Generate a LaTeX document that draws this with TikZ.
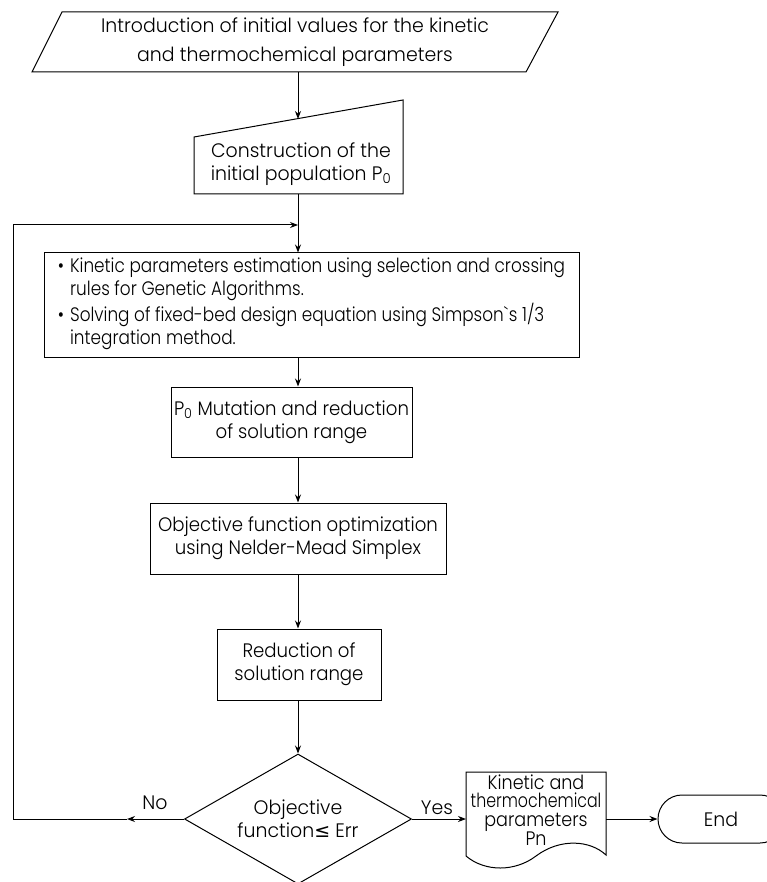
\documentclass[tikz,border=0pt]{standalone}
\usepackage{fontspec}
\setmainfont{Poppins}[UprightFont=* Light, FakeStretch=0.93]
\newfontfamily\fontWide{Poppins}[UprightFont=* Light, FakeStretch=0.97]
\newfontfamily\fontMain{Poppins}[UprightFont=* Light, FakeStretch=0.865]
\newfontfamily\fontDoc{Poppins}[UprightFont=* Light, FakeStretch=0.9]
\newfontfamily\fontDocN{Poppins}[UprightFont=* Light, FakeStretch=0.81]
\newfontfamily\fontSym{DejaVu Sans}
\usetikzlibrary{arrows.meta,shapes.geometric,shapes.misc}
\begin{document}
\begin{tikzpicture}[x=1pt,y=-1pt,
  line width=1pt,
  every node/.style={font=\fontsize{19.5}{23}\selectfont},
  wide/.style={font=\fontWide\fontsize{19.5}{23}\selectfont},
  arr/.style={-{Stealth[length=8pt,width=6pt]}},
  box/.style={draw, rectangle, inner sep=0pt, align=center},
]
\useasboundingbox (0,0) rectangle (767,882);

% input parallelogram
\draw (62,12) -- (558,12) -- (526,72) -- (32,72) -- cycle;
\node[align=center, font=\fontWide\fontsize{19.5}{29}\selectfont] (intro) at (295,42)
  {Introduction of initial values for the kinetic\\and thermochemical parameters};
\coordinate (introS) at (298,72);

% manual input
\draw (194,137) -- (403,100) -- (403,194) -- (194,194) -- cycle;
\node[wide, align=center] (pop) at (301,164) {Construction of the\\initial population P\textsubscript{0}};
\coordinate (popN) at (298,119);
\coordinate (popS) at (298,194);
\draw[arr] (introS) -- (popN);

\coordinate (join) at (298,225);

% main box
\node[box, minimum width=535pt, minimum height=104pt] (main) at (311.5,305) {};
\node[font=\fontMain\fontsize{19.5}{23}\selectfont] (maintext) at (311.5,304) {\begin{tabular}{@{}l@{\hspace{6pt}}l@{}}
\textbullet & Kinetic parameters estimation using selection and crossing\\
 & rules for Genetic Algorithms.\\
\textbullet & Solving of fixed-bed design equation using Simpson\textasciigrave s 1/3\\
 & integration method.
\end{tabular}};
\draw[arr] (popS) -- (popS |- main.north);

% mutation
\node[box, minimum width=241pt, minimum height=70pt] (mut) at (291.5,422)
  {P\textsubscript{0} Mutation and reduction\\of solution range};
\draw[arr] (popS |- main.south) -- (popS |- mut.north);

% objective
\node[box, minimum width=296pt, minimum height=71pt] (obj) at (298,538.5)
  {Objective function optimization\\using Nelder-Mead Simplex};
\draw[arr] (popS |- mut.south) -- (obj.north);

% reduction
\node[box, minimum width=164pt, minimum height=71pt] (red) at (299,664.5)
  {Reduction of\\solution range};
\draw[arr] (obj.south) -- (obj.south |- red.north);

% decision
\node[draw, diamond, minimum width=227pt, minimum height=130pt, inner sep=0pt,
  aspect=1.8, align=center, wide] (dec) at (298,819)
  {Objective\\function{\fontSym\fontsize{19}{23}\selectfont ≤} Err};
\draw[arr] (obj.south |- red.south) -- (dec.north);

% No branch / loop
\node[wide] (no) at (155,803) {No};
\coordinate (noTip) at (127,819);
\coordinate (loopBL) at (13,819);
\draw[arr] (dec.west) -- (noTip);
\draw[arr] (noTip) -- (loopBL) |- (join);

% Yes branch
\node[wide] (yes) at (437,808) {Yes};
\draw (466,772) -- (606,772) -- (606,855)
  .. controls (590,840) and (560,838) .. (536,856)
  .. controls (515,872) and (485,872) .. (466,856) -- cycle;
\node[align=center, font=\fontDoc\fontsize{19.5}{18.5}\selectfont] (doc) at (536,810)
  {Kinetic and\\{\fontDocN thermochemical}\\parameters\\Pn};
\coordinate (docW) at (466,819);
\coordinate (docE) at (606,819);
\draw[arr] (dec.east) -- (docW);

% End
\node[draw, rounded rectangle, minimum width=126pt, minimum height=48pt, inner sep=0pt, wide] (end) at (721,819) {End};
\draw[arr] (docE) -- (end.west);
\end{tikzpicture}
\end{document}
